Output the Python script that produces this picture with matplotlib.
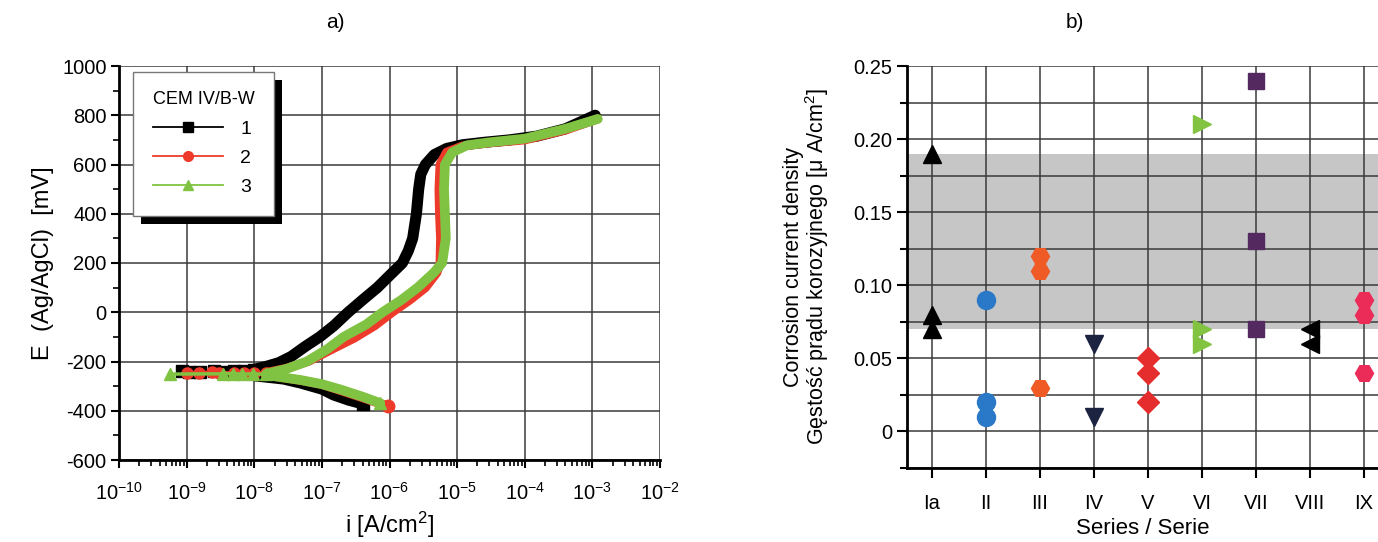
import matplotlib
matplotlib.use("Agg")
import matplotlib.pyplot as plt
import matplotlib.ticker as mticker
from matplotlib.lines import Line2D
from matplotlib.patches import Rectangle
import numpy as np

plt.rcParams['font.family'] = ['Liberation Sans', 'DejaVu Sans']
plt.rcParams['mathtext.fontset'] = 'custom'
plt.rcParams['mathtext.rm'] = 'Liberation Sans'
plt.rcParams['mathtext.it'] = 'Liberation Sans:italic'
plt.rcParams['axes.unicode_minus'] = False

# ---------------- panel a) polarization curves ----------------
legend_title = "CEM IV/B-W"
series_names = ["1", "2", "3"]

# series 1 (black)
i1_cat = [4.0e-7, 2.5e-7, 1.5e-7, 1.0e-7, 4.8e-8, 2.7e-8, 1.0e-8]
E1_cat = [-372, -357, -336, -312, -287, -271, -258]
i1_noise = [1.0e-8, 7e-9, 5e-9, 3.5e-9, 2.5e-9, 1.6e-9, 1.1e-9, 8.5e-10]
E1_noise = [-236, -238, -240, -242, -240, -243, -241, -240]
i1_an = [1.0e-8, 1.5e-8, 2.3e-8, 3.5e-8, 5.6e-8, 9.3e-8, 1.5e-7, 2.45e-7, 4.0e-7,
         6.6e-7, 1.1e-6, 1.55e-6, 1.9e-6, 2.2e-6, 2.5e-6, 2.7e-6, 2.9e-6, 3.4e-6,
         4.6e-6, 7.0e-6, 1.2e-5, 2.5e-5, 6.0e-5, 1.5e-4, 4.0e-4, 1.1e-3]
E1_an = [-232, -220, -205, -180, -140, -100, -55, 0, 50,
         100, 160, 200, 250, 300, 400, 500, 560, 600,
         640, 665, 680, 690, 700, 715, 745, 800]

# series 2 (red)
i2_cat = [9.5e-7, 7.0e-7, 4.0e-7, 1.9e-7, 1.0e-7, 4.8e-8, 1.5e-8]
E2_cat = [-380, -370, -347, -318, -293, -276, -255]
i2_noise = [1.5e-8, 1.0e-8, 7e-9, 5e-9, 3e-9, 2.4e-9, 1.5e-9, 1.0e-9]
E2_noise = [-248, -246, -247, -245, -246, -244, -246, -245]
i2_an = [1.5e-8, 3.0e-8, 6.5e-8, 1.3e-7, 3.0e-7, 6.0e-7, 1.1e-6, 2.0e-6, 3.4e-6,
         5.0e-6, 5.6e-6, 5.7e-6, 5.5e-6, 5.4e-6, 5.6e-6, 7.0e-6, 1.2e-5, 3.0e-5,
         1.0e-4, 4.0e-4, 1.2e-3]
E2_an = [-245, -228, -198, -155, -105, -55, 0, 50, 100,
         160, 200, 300, 400, 500, 600, 650, 675, 688,
         700, 740, 785]

# series 3 (green)
i3_cat = [7.3e-7, 4.0e-7, 1.9e-7, 1.0e-7, 4.8e-8, 1.5e-8]
E3_cat = [-369, -343, -314, -292, -275, -255]
i3_noise = [1.5e-8, 9.5e-9, 6.6e-9, 4.9e-9, 3.5e-9, 5.6e-10]
E3_noise = [-252, -250, -251, -249, -250, -251]
i3_an = [1.5e-8, 3.0e-8, 6.0e-8, 1.2e-7, 2.1e-7, 4.5e-7, 7.9e-7, 1.5e-6, 2.6e-6,
         4.5e-6, 6.0e-6, 6.8e-6, 6.6e-6, 6.4e-6, 6.6e-6, 8.5e-6, 1.4e-5, 3.0e-5,
         1.0e-4, 4.0e-4, 1.2e-3]
E3_an = [-250, -230, -200, -150, -100, -50, 0, 50, 100,
         160, 200, 300, 400, 500, 600, 650, 678, 690,
         705, 745, 785]

# ---------------- panel b) corrosion current density ----------------
categories = ["Ia", "II", "III", "IV", "V", "VI", "VII", "VIII", "IX"]
vals_Ia = [0.19, 0.08, 0.07]
vals_II = [0.09, 0.02, 0.01]
vals_III = [0.12, 0.11, 0.03]
vals_IV = [0.06, 0.01]
vals_V = [0.05, 0.04, 0.02]
vals_VI = [0.21, 0.07, 0.06]
vals_VII = [0.24, 0.13, 0.07]
vals_VIII = [0.07, 0.06]
vals_IX = [0.09, 0.08, 0.04]
band_low, band_high = 0.07, 0.19

fig = plt.figure(figsize=(13.78, 5.42), dpi=100)

# ---------- panel a ----------
ax1 = fig.add_axes([119/1378, 1-460/542, (660-119)/1378, (460-66)/542])
ax1.set_xscale('log')
ax1.set_xlim(1e-10, 1e-2)
ax1.set_ylim(-600, 1000)

curve_styles = [
    (i1_cat, E1_cat, i1_noise, E1_noise, i1_an, E1_an, 'black', 's', 8.0),
    (i2_cat, E2_cat, i2_noise, E2_noise, i2_an, E2_an, '#ee3a2a', 'o', 6.5),
    (i3_cat, E3_cat, i3_noise, E3_noise, i3_an, E3_an, '#80c342', '^', 7.0),
]
for k, (ic, Ec, inz, Enz, ia, Ea, col, mk, lw) in enumerate(curve_styles):
    z = 3 + k
    ax1.plot(ic, Ec, color=col, lw=lw, solid_capstyle='round', solid_joinstyle='round', zorder=z)
    ax1.plot(ia, Ea, color=col, lw=lw, solid_capstyle='round', solid_joinstyle='round', zorder=z)
    ax1.plot(inz, Enz, color=col, lw=2.5, marker=mk, ms=8, ls='-', zorder=z)
    ax1.plot([ic[0]], [Ec[0]], color=col, marker=mk, ms=9, zorder=z)

ax1.xaxis.set_major_locator(mticker.LogLocator(base=10, numticks=20))
ax1.xaxis.set_minor_locator(mticker.LogLocator(base=10, subs=np.arange(2, 10), numticks=20))
ax1.xaxis.set_minor_formatter(mticker.NullFormatter())
ax1.yaxis.set_major_locator(mticker.MultipleLocator(200))
ax1.yaxis.set_minor_locator(mticker.MultipleLocator(100))
ax1.grid(True, which='major', color='#3a3a3a', lw=1.1, zorder=0)
ax1.set_axisbelow(True)
for s in ['top', 'right']:
    ax1.spines[s].set_visible(False)
for s in ['left', 'bottom']:
    ax1.spines[s].set_linewidth(2.0)
ax1.tick_params(axis='both', which='major', direction='out', length=6, width=1.5,
                labelsize=14.5, pad=3)
ax1.tick_params(axis='both', which='minor', direction='out', length=4, width=1.2)
ax1.tick_params(axis='x', which='major', pad=10)
ax1.set_xlabel(r"i [A/cm$^2$]", fontsize=17, labelpad=4)
ax1.set_ylabel("E  (Ag/AgCl)  [mV]", fontsize=17, labelpad=6)
fig.text(335/1378, 1-22/542, "a)", fontsize=15, ha='center', va='center')

handles = [
    Line2D([], [], color='black', lw=1.3, marker='s', ms=7),
    Line2D([], [], color='#ee3a2a', lw=1.3, marker='o', ms=7),
    Line2D([], [], color='#80c342', lw=1.3, marker='^', ms=7),
]
leg = ax1.legend(handles, series_names, title=legend_title, loc='upper left',
                 bbox_to_anchor=(0.026, 0.985), fancybox=False, framealpha=1,
                 edgecolor='#777777', fontsize=14, title_fontsize=13,
                 borderpad=1.0, labelspacing=0.6, handlelength=3.6,
                 handletextpad=0.9, borderaxespad=0)
leg.get_frame().set_linewidth(1.0)
leg._legend_box.align = "left"
leg.set_zorder(10)

# ---------- panel b ----------
ax2 = fig.add_axes([907/1378, 1-468/542, 1-907/1378, (468-66)/542])
ax2.set_xlim(-0.46, 8.26)
ax2.set_ylim(-0.025, 0.25)
ax2.axhspan(band_low, band_high, color='#c6c6c6', zorder=0.5, lw=0)

groups = [vals_Ia, vals_II, vals_III, vals_IV, vals_V, vals_VI, vals_VII, vals_VIII, vals_IX]
markers = ['^', 'o', 'H', 'v', 'D', '>', 's', '<', 'H']
colors = ['black', '#2a78c8', '#ef5a25', '#1b2340', '#e62d2d', '#82c341', '#54295f', 'black', '#ec2c58']
sizes = [13, 13, 13, 13, 11, 13, 12, 13, 13]
for k, (vals, mk, col, ms) in enumerate(zip(groups, markers, colors, sizes)):
    ax2.plot([k] * len(vals), vals, ls='none', marker=mk, color=col, ms=ms,
             mec=col, zorder=4)

ax2.set_xticks(range(len(categories)))
ax2.set_xticklabels(categories)
ax2.yaxis.set_major_locator(mticker.FixedLocator([0, 0.05, 0.10, 0.15, 0.20, 0.25]))
ax2.yaxis.set_minor_locator(mticker.FixedLocator([-0.025, 0.025, 0.075, 0.125, 0.175, 0.225]))
ax2.yaxis.set_major_formatter(mticker.FuncFormatter(lambda v, p: '0' if abs(v) < 1e-9 else f'{v:.2f}'))
ax2.grid(True, which='both', axis='y', color='#3a3a3a', lw=1.1, zorder=1)
ax2.grid(True, which='major', axis='x', color='#3a3a3a', lw=1.1, zorder=1)
for line in ax2.get_xgridlines() + ax2.get_ygridlines():
    line.set_zorder(1)
for s in ['top', 'right']:
    ax2.spines[s].set_visible(False)
for s in ['left', 'bottom']:
    ax2.spines[s].set_linewidth(2.0)
ax2.tick_params(axis='both', which='major', direction='out', length=7, width=1.5,
                labelsize=14.5)
ax2.tick_params(axis='x', which='major', pad=12)
ax2.tick_params(axis='y', which='minor', direction='out', length=5, width=1.5)
ax2.set_xlabel("Series / Serie", fontsize=16, labelpad=3)
ax2.set_ylabel("Corrosion current density\nGęstość prądu korozyjnego [μ A/cm$^2$]",
               fontsize=15.5, labelpad=16, linespacing=0.95)
fig.text(1075/1378, 1-22/542, "b)", fontsize=15, ha='center', va='center')

# legend shadow (black block offset down-right)
fig.canvas.draw()
bb = leg.get_window_extent()
shadow = Rectangle((bb.x0 + 8, bb.y0 - 8), bb.width, bb.height,
                   transform=None, facecolor='black', edgecolor='none', zorder=9)
ax1.add_artist(shadow)
shadow.set_clip_on(False)

fig.savefig("out.png", dpi=100)
